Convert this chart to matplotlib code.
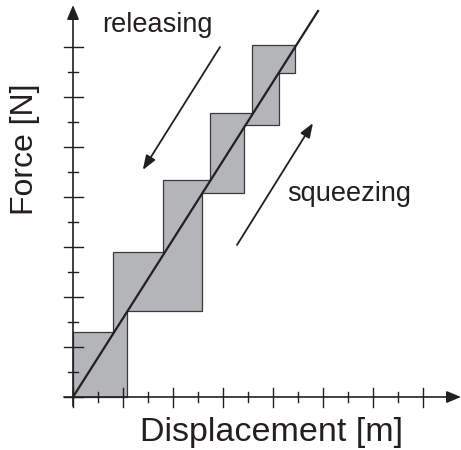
import matplotlib
matplotlib.use("Agg")
from matplotlib import pyplot as plt

# staircase outline (hysteresis area), in axis units
stair_x = [0, 0, 1.6, 1.6, 3.6, 3.6, 5.46, 5.46, 7.15, 7.15, 8.88, 8.88, 8.25, 8.25,
           6.85, 6.85, 5.17, 5.17, 2.17, 2.17]
stair_y = [0, 2.6, 2.6, 5.8, 5.8, 8.68, 8.68, 11.37, 11.37, 14.08, 14.08, 12.97, 12.97, 10.88,
           10.88, 8.18, 8.18, 3.43, 3.43, 0]

# straight force-displacement line
line_x = [0, 9.8]
line_y = [0, 15.44]

x_ticks = list(range(0, 15))
y_ticks = list(range(0, 15))

# direction arrows (tail, tip)
releasing_arrow = [(5.88, 14.0), (2.79, 9.08)]
squeezing_arrow = [(6.56, 6.08), (9.6, 10.96)]

INK = "#231f20"
FILL = "#b4b5b8"

plt.rcParams["font.family"] = ["Liberation Sans", "DejaVu Sans"]

fig = plt.figure(figsize=(4.61, 4.50), dpi=100)
ax = fig.add_axes([0, 0, 1, 1])
ax.set_xlim(-2.92, 15.52)
ax.set_ylim(-2.12, 15.88)
ax.axis("off")

ax.fill(stair_x, stair_y, facecolor=FILL, edgecolor="#3a3a3c", linewidth=0.9, zorder=2)
ax.plot(line_x, line_y, color=INK, linewidth=1.6, zorder=3)

# axes with arrow heads
head = "-|>,head_length=0.6,head_width=0.25"
ax.annotate("", xy=(15.52, 0), xytext=(-0.36, 0),
            arrowprops=dict(arrowstyle=head, color=INK, lw=1.2, mutation_scale=14.4,
                            shrinkA=0, shrinkB=0), zorder=4)
ax.annotate("", xy=(0, 15.68), xytext=(0, -0.36),
            arrowprops=dict(arrowstyle=head, color=INK, lw=1.2, mutation_scale=14.4,
                            shrinkA=0, shrinkB=0), zorder=4)

for t in x_ticks:
    half = 0.38 if t % 2 == 0 else 0.19
    ax.plot([t, t], [-half, half], color=INK, linewidth=1.0, zorder=4)
for t in y_ticks:
    half = 0.38 if t % 2 == 0 else 0.19
    ax.plot([-half, half], [t, t], color=INK, linewidth=1.0, zorder=4)

for tail, tip in (releasing_arrow, squeezing_arrow):
    ax.annotate("", xy=tip, xytext=tail,
                arrowprops=dict(arrowstyle="-|>,head_length=0.6,head_width=0.22", color=INK,
                                lw=1.3, mutation_scale=14.4, shrinkA=0, shrinkB=0))

ax.text(3.36, 14.88, "releasing", fontsize=19.5, color=INK, ha="center", va="center")
ax.text(11.04, 8.12, "squeezing", fontsize=19.5, color=INK, ha="center", va="center")
ax.text(7.94, -1.42, "Displacement [m]", fontsize=24.5, color=INK, ha="center", va="center")
ax.text(-1.92, 9.9, "Force [N]", fontsize=23, color=INK, ha="center", va="center",
        rotation=90)

fig.savefig("out.png", dpi=100)
